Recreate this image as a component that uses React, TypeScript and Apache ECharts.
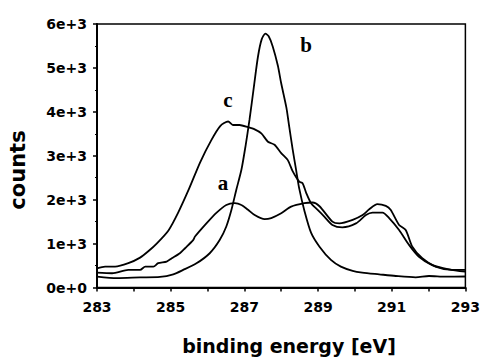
import React, { useEffect, useRef } from "react";
import * as echarts from "echarts";

// Curve a
const aE = [283.0, 283.41, 283.85, 284.17, 284.31, 284.53, 284.66, 284.89, 285.03, 285.25, 285.39, 285.61, 285.66, 285.97, 286.24, 286.51, 286.74, 286.92, 287.1, 287.28, 287.55, 287.73, 288.0, 288.27, 288.63, 288.85, 289.04, 289.39, 289.58, 289.94, 290.21, 290.39, 290.61, 290.84, 290.97, 291.2, 291.38, 291.56, 291.83, 292.19, 292.64, 293.0];
const aY = [337, 324, 400, 400, 475, 475, 553, 590, 665, 780, 894, 1080, 1160, 1460, 1700, 1880, 1920, 1880, 1770, 1650, 1555, 1580, 1690, 1840, 1920, 1935, 1850, 1500, 1460, 1540, 1650, 1780, 1900, 1860, 1770, 1425, 1310, 930, 665, 475, 400, 400];

// Curve b
const bE = [283.0, 283.54, 284.17, 284.71, 285.07, 285.34, 285.7, 286.06, 286.33, 286.51, 286.65, 286.78, 286.92, 287.03, 287.14, 287.26, 287.37, 287.47, 287.57, 287.66, 287.77, 287.91, 288.0, 288.14, 288.22, 288.31, 288.41, 288.49, 288.63, 288.81, 289.04, 289.35, 289.62, 289.94, 290.2, 290.66, 291.11, 291.65, 292.01, 292.46, 293.0];
const bY = [250, 215, 230, 240, 300, 400, 550, 780, 1080, 1390, 1770, 2220, 2680, 3210, 3820, 4580, 5260, 5650, 5780, 5720, 5490, 5050, 4650, 4100, 3650, 3150, 2650, 2250, 1750, 1250, 930, 627, 475, 380, 340, 300, 262, 232, 262, 246, 250];

// Curve c
const cE = [283.0, 283.22, 283.49, 283.85, 284.17, 284.4, 284.62, 284.94, 285.2, 285.5, 285.8, 286.1, 286.35, 286.56, 286.69, 286.87, 287.1, 287.28, 287.46, 287.64, 287.82, 288.0, 288.18, 288.31, 288.49, 288.58, 288.68, 288.81, 288.99, 289.17, 289.39, 289.66, 290.03, 290.3, 290.48, 290.75, 290.93, 291.2, 291.47, 291.74, 292.1, 292.55, 293.0];
const cY = [437, 475, 475, 553, 680, 830, 1000, 1300, 1700, 2250, 2850, 3350, 3680, 3780, 3700, 3700, 3650, 3600, 3510, 3320, 3250, 3060, 2900, 2650, 2410, 2375, 2150, 1920, 1770, 1615, 1425, 1370, 1460, 1650, 1705, 1705, 1580, 1310, 970, 700, 510, 415, 360];

const xTicks = [283, 285, 287, 289, 291, 293];

const curveLabels = [
  { text: "a", x: 223, y: 183 },
  { text: "b", x: 306, y: 45 },
  { text: "c", x: 228, y: 100 },
];

const zip = (xs: number[], ys: number[]) => xs.map((x, i) => [x, ys[i]]);

export default function App() {
  const ref = useRef<HTMLDivElement>(null);
  useEffect(() => {
    document.body.style.margin = "0";
    const chart = echarts.init(ref.current!, null, { renderer: "svg" });
    const lineStyle = { color: "#000", width: 1.8 };
    const mk = (name: string, data: number[][]) => ({
      name,
      type: "line",
      data,
      showSymbol: false,
      symbol: "none",
      smooth: 0.25,
      lineStyle,
    });
    chart.setOption({
      animation: false,
      backgroundColor: "#fff",
      grid: {
        left: 97,
        right: 15,
        top: 24,
        bottom: 71.5,
        show: true,
        borderColor: "#000",
        borderWidth: 1.5,
        backgroundColor: "transparent",
      },
      xAxis: {
        type: "value",
        min: 283,
        max: 293,
        interval: 1,
        axisLine: { show: true, lineStyle: { color: "#000", width: 2 } },
        axisTick: { show: true, length: 4, lineStyle: { color: "#000", width: 1.5 } },
        splitLine: { show: false },
        axisLabel: {
          margin: 12,
          color: "#000",
          fontFamily: "DejaVu Sans",
          fontWeight: "bold",
          fontSize: 14,
          formatter: (v: number) => (xTicks.includes(Math.round(v)) ? String(Math.round(v)) : ""),
        },
      },
      yAxis: {
        type: "value",
        min: 0,
        max: 6000,
        interval: 1000,
        axisLine: { show: true, lineStyle: { color: "#000", width: 2 } },
        axisTick: { show: true, length: 4, lineStyle: { color: "#000", width: 1.5 } },
        minorTick: { show: true, splitNumber: 2, length: 2, lineStyle: { color: "#000", width: 1.2 } },
        splitLine: { show: false },
        axisLabel: {
          margin: 10,
          color: "#000",
          fontFamily: "DejaVu Sans",
          fontWeight: "bold",
          fontSize: 14,
          formatter: (v: number) => (v === 0 ? "0e+0" : `${v / 1000}e+3`),
        },
      },
      graphic: [
        {
          type: "text",
          x: 289,
          y: 346,
          style: {
            text: "binding energy [eV]",
            font: "bold 19px 'DejaVu Sans'",
            fill: "#000",
            align: "center",
            verticalAlign: "middle",
          },
        },
        {
          type: "text",
          x: 18,
          y: 170,
          rotation: Math.PI / 2,
          style: {
            text: "counts",
            font: "bold 21px 'DejaVu Sans'",
            fill: "#000",
            align: "center",
            verticalAlign: "middle",
          },
        },
        ...curveLabels.map((l) => ({
          type: "text",
          x: l.x,
          y: l.y,
          style: {
            text: l.text,
            font: "bold 21px 'Liberation Serif'",
            fill: "#000",
            align: "center",
            verticalAlign: "middle",
          },
        })),
      ],
      series: [mk("a", zip(aE, aY)), mk("b", zip(bE, bY)), mk("c", zip(cE, cY))],
    });
    return () => chart.dispose();
  }, []);
  return <div ref={ref} style={{ width: 483, height: 359 }} />;
}
